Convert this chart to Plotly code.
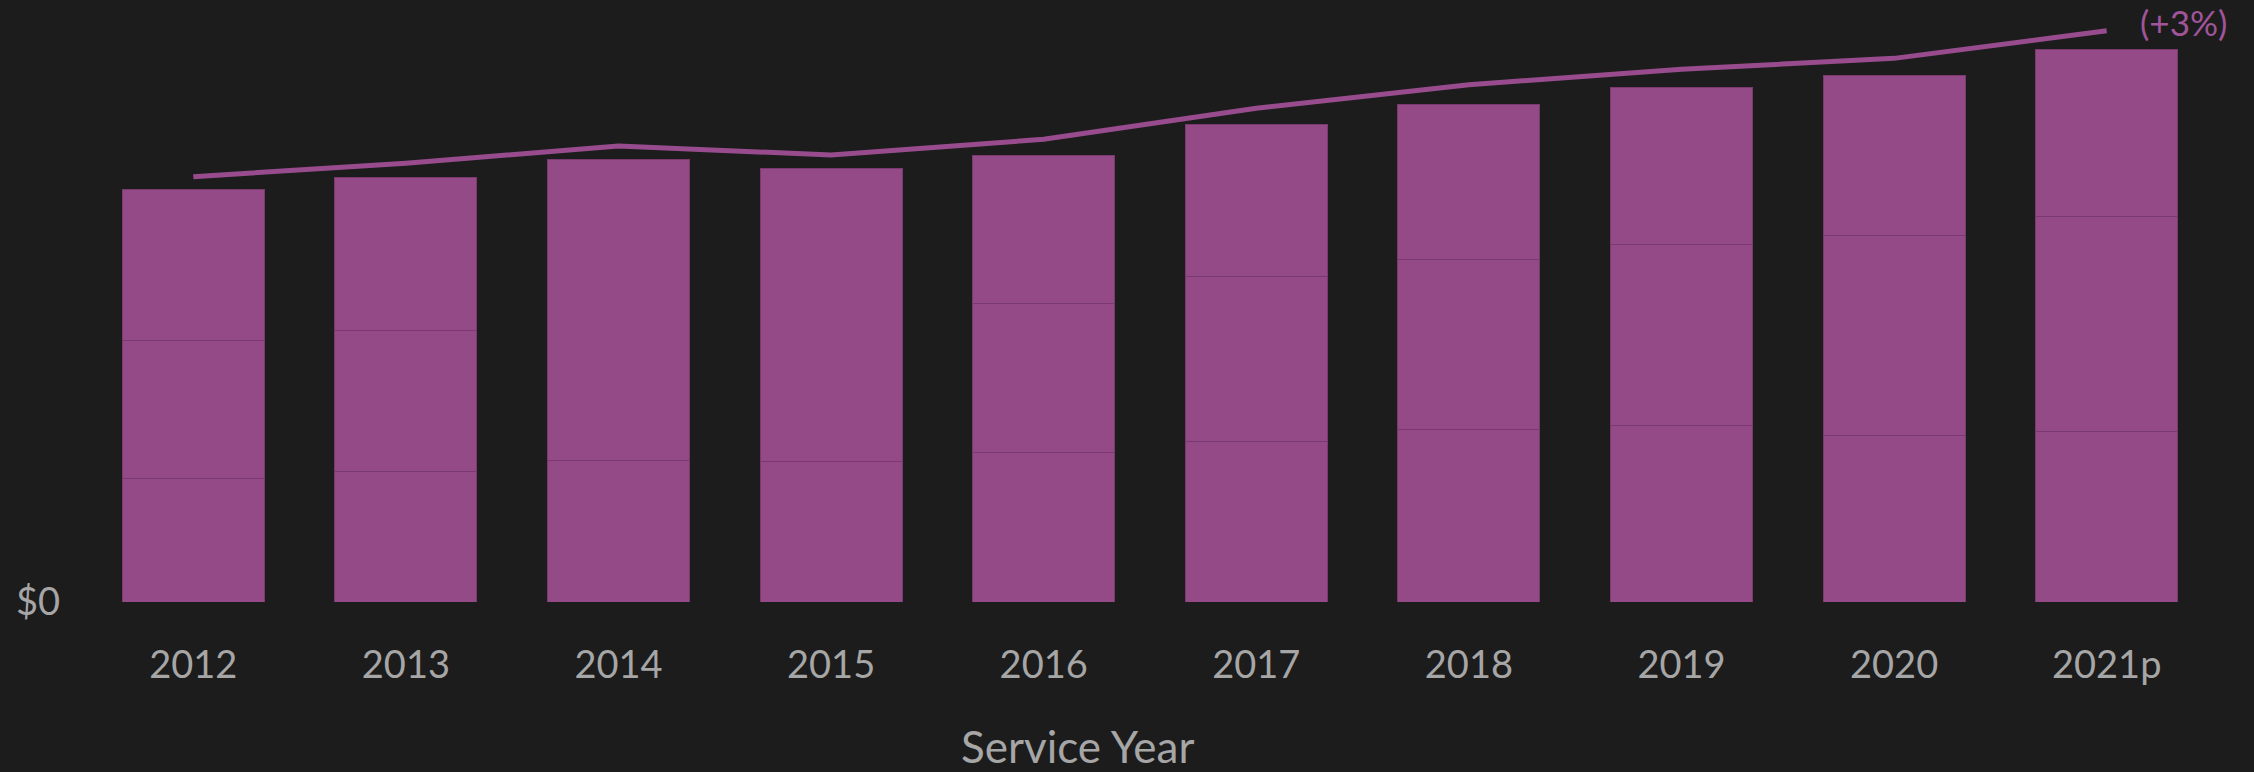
import plotly.graph_objects as go

years = ["2012", "2013", "2014", "2015", "2016", "2017", "2018", "2019", "2020", "2021p"]

# stacked pieces of each bar (bottom, middle, top), same unit for all
seg_bottom = [31.0, 32.75, 35.5, 35.1, 37.3, 40.15, 43.1, 44.25, 41.75, 42.75]
seg_middle = [34.5, 35.25, 75.1, 73.3, 37.4, 41.25, 42.7, 45.1, 50.0, 53.75]
seg_top = [37.65, 38.15, 0, 0, 37.1, 38.0, 38.65, 39.25, 40.0, 41.6]

# line drawn above the bars
line_total = [106.4, 109.75, 114.1, 111.8, 115.75, 123.5, 129.4, 133.25, 136.0, 142.9]
change_label = "(+3%)"

bar_color = "#934a87"
edge_color = "#7a3a70"
line_color = "#984c8e"
bg = "#1c1c1c"
grey = "#a6a6a6"
font_name = "Lato"

fig = go.Figure()

for seg in [seg_bottom, seg_middle, seg_top]:
    fig.add_trace(go.Bar(
        x=years, y=seg,
        marker=dict(color=bar_color, line=dict(color=edge_color, width=1)),
        showlegend=False, hoverinfo="skip",
    ))

fig.add_trace(go.Scatter(
    x=years, y=line_total, mode="lines",
    line=dict(color=line_color, width=5),
    showlegend=False, hoverinfo="skip",
))

fig.add_annotation(
    x=years[-1], y=line_total[-1], text=change_label, showarrow=False,
    xanchor="left", yanchor="middle", xshift=31, yshift=9,
    font=dict(family=font_name, size=35, color="#a0559a"),
)

fig.add_annotation(
    x=0.466, y=-0.244, xref="paper", yref="paper", text="Service Year",
    showarrow=False, xanchor="center", yanchor="middle",
    font=dict(family=font_name, size=44, color=grey),
)

fig.update_layout(
    width=2254, height=772,
    margin=dict(l=87, r=41, t=10, b=170),
    paper_bgcolor=bg, plot_bgcolor=bg,
    barmode="stack", bargap=0.332,
    font=dict(family=font_name, color=grey),
)
fig.update_xaxes(
    range=[-0.5, len(years) - 0.5],
    showgrid=False, zeroline=False, showline=False, ticks="",
    tickfont=dict(size=38, color=grey), ticklabelstandoff=37,
)
fig.update_yaxes(
    range=[0, 148.1], showgrid=False, zeroline=False, showline=False,
    tickvals=[0], ticktext=["$0"], ticks="",
    tickfont=dict(size=38, color=grey), ticklabelstandoff=26,
)

fig.write_html(
    "out.html",
    config={"displayModeBar": False},
    post_script="document.body.style.margin='0';document.body.style.overflow='hidden';",
)
